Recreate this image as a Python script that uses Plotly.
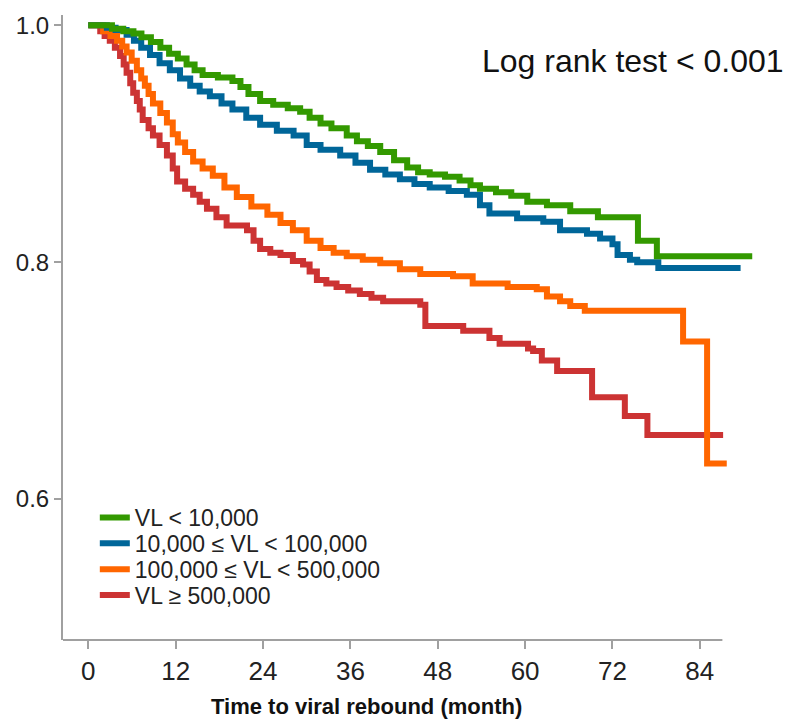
import plotly.graph_objects as go

# Kaplan-Meier survival estimates (months since start, probability free of viral rebound)
t_low = [0, 3.25, 4.8, 6.2, 7.3, 8.6, 9.9, 11.1, 12.3, 13.5, 14.6, 15.7, 17.8, 19.8, 20.9, 22.0,
         23.6, 25.4, 27.4, 29.1, 30.4, 31.9, 33.4, 35.5, 36.9, 38.4, 40.1, 42.0, 43.8, 45.3, 46.9,
         49.0, 51.0, 52.5, 53.8, 56.0, 58.1, 60.3, 63.0, 66.2, 70.0, 75.5, 78.1, 91.2]
s_low = [1.0, 0.997, 0.995, 0.993, 0.990, 0.986, 0.981, 0.976, 0.972, 0.967, 0.962, 0.958, 0.956,
         0.953, 0.948, 0.942, 0.936, 0.933, 0.930, 0.927, 0.922, 0.917, 0.913, 0.907, 0.902, 0.898,
         0.893, 0.886, 0.880, 0.876, 0.874, 0.872, 0.869, 0.865, 0.862, 0.859, 0.856, 0.851, 0.848,
         0.843, 0.838, 0.818, 0.805, 0.805]

t_mid = [0, 2.55, 3.75, 5.26, 6.27, 7.27, 8.48, 9.79, 11.2, 12.6, 14.0, 15.3, 16.7, 18.3, 19.8,
         21.7, 23.6, 25.9, 28.2, 30.0, 31.9, 34.6, 36.7, 38.7, 40.8, 42.8, 44.8, 46.9, 49.5, 52.0,
         53.8, 55.1, 58.9, 62.5, 64.8, 68.5, 70.3, 72.0, 72.7, 74.4, 75.4, 78.3, 89.6]
s_mid = [1.0, 0.998, 0.996, 0.992, 0.987, 0.981, 0.975, 0.968, 0.962, 0.955, 0.949, 0.944, 0.940,
         0.934, 0.929, 0.922, 0.916, 0.911, 0.907, 0.899, 0.895, 0.890, 0.884, 0.878, 0.874, 0.870,
         0.866, 0.863, 0.860, 0.857, 0.848, 0.841, 0.837, 0.834, 0.827, 0.824, 0.820, 0.815, 0.806,
         0.802, 0.800, 0.795, 0.795]

t_high = [0, 2.04, 3.05, 3.95, 4.66, 5.26, 5.96, 6.67, 7.27, 7.77, 8.28, 8.88, 9.89, 10.8, 11.6,
          12.3, 13.3, 14.4, 15.7, 17.1, 18.7, 20.4, 22.4, 24.6, 26.4, 28.1, 30.0, 31.9, 33.7, 35.5,
          37.7, 40.1, 42.8, 45.6, 50.1, 52.8, 57.6, 61.6, 63.0, 64.8, 66.2, 68.2, 81.7, 85.0, 87.7]
s_high = [1.0, 0.995, 0.991, 0.987, 0.982, 0.977, 0.970, 0.962, 0.955, 0.949, 0.942, 0.934, 0.926,
          0.918, 0.908, 0.901, 0.893, 0.885, 0.879, 0.873, 0.863, 0.855, 0.847, 0.840, 0.833, 0.827,
          0.818, 0.812, 0.808, 0.805, 0.802, 0.799, 0.794, 0.790, 0.788, 0.782, 0.779, 0.777, 0.771,
          0.767, 0.763, 0.759, 0.733, 0.630, 0.630]

t_vhigh = [0, 1.64, 2.24, 2.95, 3.65, 4.36, 4.86, 5.26, 5.76, 6.17, 6.67, 7.07, 7.47, 8.28, 8.88,
           9.79, 10.8, 11.6, 12.2, 13.3, 14.4, 15.3, 16.3, 17.6, 19.0, 21.8, 22.7, 23.6, 25.0,
           26.4, 28.1, 29.5, 30.4, 31.4, 32.7, 34.1, 35.7, 37.3, 38.9, 40.5, 45.6, 46.3, 51.5,
           55.1, 56.5, 60.4, 61.1, 62.3, 64.4, 69.2, 73.7, 76.8, 87.2]
s_vhigh = [1.0, 0.995, 0.991, 0.987, 0.981, 0.974, 0.967, 0.960, 0.951, 0.943, 0.936, 0.929, 0.920,
           0.913, 0.907, 0.899, 0.890, 0.879, 0.868, 0.862, 0.857, 0.851, 0.845, 0.838, 0.831,
           0.827, 0.818, 0.811, 0.808, 0.806, 0.801, 0.798, 0.792, 0.785, 0.782, 0.779, 0.776,
           0.773, 0.770, 0.767, 0.764, 0.746, 0.742, 0.736, 0.731, 0.727, 0.725, 0.717, 0.708,
           0.686, 0.670, 0.654, 0.654]

group_names = ["VL < 10,000", "10,000 ≤ VL < 100,000", "100,000 ≤ VL < 500,000", "VL ≥ 500,000"]
group_colors = ["#339900", "#006699", "#FF6600", "#CC3333"]
times = [t_low, t_mid, t_high, t_vhigh]
surv = [s_low, s_mid, s_high, s_vhigh]

x_ticks = [0, 12, 24, 36, 48, 60, 72, 84]
y_ticks = [0.6, 0.8, 1.0]
y_ticktext = ["0.6", "0.8", "1.0"]

FONT = "Liberation Sans, Arial, sans-serif"
AXIS_GREY = "#a0a0a0"

fig = go.Figure()
legend_ids = ["legend", "legend2", "legend3", "legend4"]
# Draw order: low-VL curve on top
for i in [3, 2, 1, 0]:
    fig.add_trace(go.Scatter(
        x=times[i], y=surv[i], mode="lines", name=group_names[i],
        line=dict(color=group_colors[i], width=6, shape="hv"),
        legend=legend_ids[i], hoverinfo="skip",
    ))

# One legend box per group so each row can sit at its own height
legend_rows = [0.196, 0.1547, 0.1132, 0.0718]
layout_legends = {}
for i, lid in enumerate(legend_ids):
    layout_legends[lid] = dict(
        x=0.045, y=legend_rows[i], xanchor="left", yanchor="middle",
        bgcolor="rgba(0,0,0,0)", borderwidth=0,
        font=dict(family=FONT, size=23, color="#222222"),
    )

fig.update_layout(
    width=788, height=719,
    margin=dict(l=63, r=18, t=13, b=79),
    paper_bgcolor="white", plot_bgcolor="white",
    showlegend=True,
    font=dict(family=FONT, color="#222222"),
    xaxis=dict(
        range=[-3.475, 93.64], tickmode="array", tickvals=x_ticks,
        ticks="outside", ticklen=8, tickwidth=2, tickcolor=AXIS_GREY,
        showline=False, showgrid=False, zeroline=False,
        tickfont=dict(family=FONT, size=26, color="#222222"),
    ),
    yaxis=dict(
        range=[0.4809, 1.0087], tickmode="array", tickvals=y_ticks, ticktext=y_ticktext,
        ticks="outside", ticklen=7, tickwidth=2, tickcolor=AXIS_GREY,
        showline=True, linecolor=AXIS_GREY, linewidth=2,
        showgrid=False, zeroline=False,
        tickfont=dict(family=FONT, size=24, color="#222222"),
    ),
    **layout_legends,
)

# Bottom axis line stops at the end of the follow-up window
fig.add_shape(type="line", xref="x", yref="paper", x0=-3.475, x1=87.1, y0=0, y1=0,
              line=dict(color=AXIS_GREY, width=2))

# x-axis title
fig.add_annotation(
    text="<b>Time to viral rebound (month)</b>", xref="paper", yref="paper",
    x=0.4286, y=-0.107, xanchor="center", yanchor="middle", showarrow=False,
    font=dict(family=FONT, size=22, color="#111111"),
)

fig.add_annotation(
    text="Log rank test < 0.001", xref="paper", yref="paper",
    x=1.023, y=0.927, xanchor="right", yanchor="middle", showarrow=False,
    font=dict(family=FONT, size=32, color="#111111"),
)

fig.write_html("out.html")
